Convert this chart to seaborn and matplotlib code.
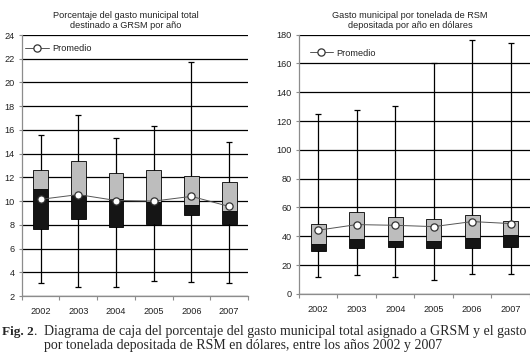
import numpy as np
import pandas as pd
import seaborn as sns
import matplotlib
matplotlib.use("Agg")
import matplotlib.pyplot as plt
from matplotlib.ticker import FixedLocator

# datos
years = ["2002", "2003", "2004", "2005", "2006", "2007"]

# porcentaje del gasto municipal destinado a GRSM
pct_min = [3.1, 2.8, 2.8, 3.25, 3.15, 3.1]
pct_q1 = [7.65, 8.5, 7.85, 8.05, 8.8, 8.05]
pct_med = [11.05, 10.5, 10.2, 9.9, 9.65, 9.15]
pct_q3 = [12.65, 13.4, 12.4, 12.6, 12.15, 11.65]
pct_max = [15.55, 17.3, 15.35, 16.3, 21.7, 15.0]
pct_mean = [10.15, 10.55, 10.05, 10.0, 10.4, 9.55]

# gasto por tonelada depositada (dolares)
usd_min = [12, 13, 12, 9.5, 13.7, 13.7]
usd_q1 = [29.6, 32.1, 32.6, 32.1, 31.7, 32.8]
usd_med = [34.5, 38.1, 36.5, 36.5, 38.6, 40.7]
usd_q3 = [48.3, 56.7, 53.2, 51.8, 54.6, 50.6]
usd_max = [124.6, 128, 130.8, 160, 176.5, 174]
usd_mean = [44.2, 48.1, 47.6, 46.7, 50.2, 48.8]

sns.set_style("white")
plt.rcParams['font.family'] = ['Liberation Sans', 'DejaVu Sans']

fig = plt.figure(figsize=(5.3, 3.61), dpi=100)
ax1 = fig.add_axes([0.041, 0.180, 0.427, 0.723])
ax2 = fig.add_axes([0.564, 0.186, 0.436, 0.718])


def caja(ax, mn, q1, med, q3, mx, mean, yticks, legend_xy):
    df = pd.DataFrame({"year": years, "q1": q1, "med": med, "q3": q3,
                       "mn": mn, "mx": mx, "mean": mean})
    df["low"] = df["med"] - df["q1"]
    df["high"] = df["q3"] - df["med"]
    pos = np.arange(len(years))

    # bigotes
    ax.vlines(pos, df["mn"], df["mx"], color="black", lw=0.9, zorder=1)
    ax.hlines(df["mn"], pos - 0.08, pos + 0.08, color="black", lw=0.9, zorder=1)
    ax.hlines(df["mx"], pos - 0.08, pos + 0.08, color="black", lw=0.9, zorder=1)

    # caja: negro Q1-mediana, gris mediana-Q3
    sns.barplot(data=df, x="year", y="low", bottom=df["q1"], color="#151515",
                edgecolor="black", linewidth=0.6, width=0.39, errorbar=None,
                ax=ax, zorder=2)
    sns.barplot(data=df, x="year", y="high", bottom=df["med"], color="#bdbdbd",
                edgecolor="black", linewidth=0.6, width=0.39, errorbar=None,
                ax=ax, zorder=2)

    # promedio
    sns.pointplot(data=df, x="year", y="mean", color="#555555", markers="o",
                  linestyles="-", markersize=5.2, markerfacecolor="white",
                  markeredgecolor="#333333", markeredgewidth=0.9, linewidth=0.7,
                  errorbar=None, label="Promedio", ax=ax, zorder=3)

    ax.set_xlim(-0.5, len(years) - 0.5)
    ax.set_ylim(yticks[0], yticks[-1])
    ax.set_yticks(yticks)
    ax.set_xlabel("")
    ax.set_ylabel("")
    ax.yaxis.grid(True, color="black", lw=0.9)
    ax.set_axisbelow(True)
    for s in ["top", "right"]:
        ax.spines[s].set_visible(False)
    for s in ["left", "bottom"]:
        ax.spines[s].set_color("#8c8c8c")
        ax.spines[s].set_linewidth(0.9)
        ax.spines[s].set_zorder(4)
    ax.tick_params(axis="x", which="major", length=0, pad=8, labelsize=6.6,
                   labelcolor="#222222")
    ax.xaxis.set_minor_locator(FixedLocator(np.arange(-0.5, len(years), 1.0)))
    ax.tick_params(axis="x", which="minor", length=3, width=0.8, color="#8c8c8c",
                   direction="out", bottom=True)
    ax.tick_params(axis="y", length=2, width=0.8, color="#8c8c8c", pad=3,
                   labelsize=6.6, labelcolor="#222222", left=True)

    leg = ax.legend(loc="upper left", bbox_to_anchor=legend_xy, frameon=False,
                    fontsize=6.6, handlelength=2.6, handletextpad=0.3,
                    borderaxespad=0)
    for t in leg.get_texts():
        t.set_color("#222222")


caja(ax1, pct_min, pct_q1, pct_med, pct_q3, pct_max, pct_mean,
     list(range(2, 25, 2)), (0.0, 0.98))
caja(ax2, usd_min, usd_q1, usd_med, usd_q3, usd_max, usd_mean,
     list(range(0, 181, 20)), (0.03, 0.96))

fig.text(126 / 530, 1 - 11 / 361, "Porcentaje del gasto municipal total\ndestinado a GRSM por año",
         ha="center", va="top", fontsize=6.6, color="#222222", linespacing=1.2)
fig.text(410 / 530, 1 - 11 / 361, "Gasto municipal por tonelada de RSM\ndepositada por año en dólares",
         ha="center", va="top", fontsize=6.6, color="#222222", linespacing=1.2)

# pie de figura
fig.text(2 / 530, 1 - 332 / 361, "Fig. 2", fontsize=9.5, fontweight="bold",
         family="Liberation Serif", va="center", ha="left")
fig.text(33 / 530, 1 - 332 / 361, ".", fontsize=9.5,
         family="Liberation Serif", va="center", ha="left")
fig.text(44 / 530, 1 - 332 / 361,
         "Diagrama de caja del porcentaje del gasto municipal total asignado a GRSM y el gasto",
         fontsize=10, family="Liberation Serif", va="center", ha="left")
fig.text(44 / 530, 1 - 345.5 / 361,
         "por tonelada depositada de RSM en dólares, entre los años 2002 y 2007",
         fontsize=10, family="Liberation Serif", va="center", ha="left")

fig.savefig("out.png", dpi=100)
